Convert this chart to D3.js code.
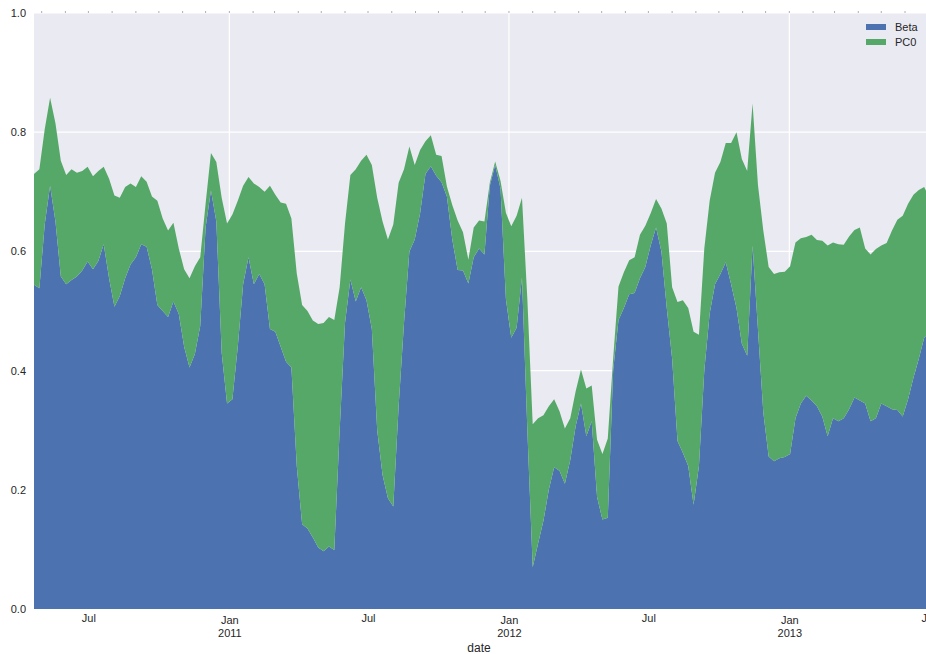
<!DOCTYPE html>
<html>
<head>
<meta charset="UTF-8">
<script src="https://d3js.org/d3.v7.min.js"></script>
<style>
  body { margin: 0; background: #fff; }
  svg { font-family: "Liberation Sans", Arial, sans-serif; }
  .tick text { fill: #262626; font-size: 11px; }
  .domain { display: none; }
</style>
</head>
<body>
<svg width="926" height="654"></svg>
<script>
// weekly samples starting 2010-04-21
const startDate = "2010-04-21";
const seriesNames = ["Beta", "PC0"];
const betaValues = [
  0.544, 0.538, 0.645, 0.710, 0.650, 0.558, 0.545, 0.552, 0.558, 0.568,
  0.583, 0.570, 0.584, 0.612, 0.555, 0.507, 0.525, 0.555, 0.578, 0.590,
  0.612, 0.608, 0.570, 0.510, 0.500, 0.490, 0.516, 0.495, 0.440, 0.405,
  0.428, 0.475, 0.640, 0.702, 0.650, 0.430, 0.345, 0.352, 0.440, 0.545,
  0.590, 0.545, 0.562, 0.545, 0.470, 0.465, 0.440, 0.415, 0.405, 0.240,
  0.142, 0.135, 0.120, 0.103, 0.097, 0.105, 0.099, 0.300, 0.480, 0.553,
  0.516, 0.540, 0.518, 0.470, 0.300, 0.225, 0.186, 0.172, 0.340, 0.480,
  0.600, 0.620, 0.664, 0.730, 0.743, 0.727, 0.716, 0.692, 0.620, 0.569,
  0.568, 0.546, 0.590, 0.605, 0.595, 0.710, 0.745, 0.705, 0.520, 0.455,
  0.472, 0.556, 0.300, 0.070, 0.110, 0.148, 0.200, 0.238, 0.232, 0.210,
  0.250, 0.306, 0.345, 0.290, 0.315, 0.188, 0.150, 0.153, 0.400, 0.485,
  0.505, 0.528, 0.530, 0.555, 0.574, 0.610, 0.640, 0.600, 0.505, 0.420,
  0.282, 0.262, 0.240, 0.175, 0.240, 0.400, 0.496, 0.545, 0.562, 0.582,
  0.545, 0.505, 0.445, 0.425, 0.610, 0.470, 0.330, 0.256, 0.248, 0.253,
  0.255, 0.260, 0.320, 0.345, 0.358, 0.350, 0.340, 0.323, 0.290, 0.320,
  0.315, 0.320, 0.335, 0.355, 0.350, 0.345, 0.315, 0.320, 0.345, 0.340,
  0.335, 0.334, 0.323, 0.352, 0.388, 0.420, 0.455, 0.465
];
const pc0Values = [
  0.186, 0.200, 0.160, 0.148, 0.165, 0.194, 0.183, 0.186, 0.174, 0.167,
  0.159, 0.156, 0.151, 0.130, 0.167, 0.187, 0.165, 0.153, 0.136, 0.118,
  0.114, 0.109, 0.122, 0.175, 0.155, 0.145, 0.132, 0.110, 0.130, 0.150,
  0.147, 0.115, 0.040, 0.063, 0.100, 0.260, 0.302, 0.310, 0.245, 0.165,
  0.135, 0.169, 0.146, 0.155, 0.240, 0.230, 0.242, 0.265, 0.250, 0.323,
  0.368, 0.365, 0.364, 0.375, 0.383, 0.385, 0.386, 0.240, 0.167, 0.175,
  0.222, 0.212, 0.244, 0.275, 0.390, 0.425, 0.434, 0.473, 0.375, 0.258,
  0.176, 0.125, 0.106, 0.055, 0.052, 0.035, 0.044, 0.017, 0.058, 0.083,
  0.064, 0.040, 0.050, 0.047, 0.055, 0.005, 0.006, 0.013, 0.145, 0.187,
  0.188, 0.134, 0.220, 0.240, 0.210, 0.177, 0.140, 0.114, 0.100, 0.093,
  0.070, 0.059, 0.057, 0.080, 0.060, 0.096, 0.110, 0.133, 0.020, 0.056,
  0.060, 0.057, 0.060, 0.073, 0.069, 0.054, 0.048, 0.072, 0.142, 0.120,
  0.233, 0.256, 0.265, 0.290, 0.220, 0.205, 0.189, 0.187, 0.188, 0.200,
  0.237, 0.295, 0.310, 0.310, 0.238, 0.242, 0.305, 0.318, 0.314, 0.312,
  0.311, 0.315, 0.295, 0.277, 0.266, 0.278, 0.279, 0.295, 0.320, 0.295,
  0.297, 0.291, 0.290, 0.281, 0.290, 0.260, 0.280, 0.284, 0.265, 0.274,
  0.300, 0.319, 0.337, 0.328, 0.307, 0.283, 0.253, 0.225
];
const yTicks = [0, 0.2, 0.4, 0.6, 0.8, 1.0];
const colors = ["#4C72B0", "#55A868"];

const parse = d3.timeParse("%Y-%m-%d");
const start = parse(startDate);
const rows = betaValues.map((b, i) => ({
  date: d3.timeDay.offset(start, i * 7),
  Beta: b,
  PC0: pc0Values[i]
}));

const svg = d3.select("svg");
const margin = {top: 13, right: 0, bottom: 45, left: 34};
const plotW = 894; // axes runs slightly past the right edge
const plotH = 654 - margin.top - margin.bottom;

const x = d3.scaleTime()
  .domain([start, parse("2013-07-01")])
  .range([0, plotW]);
const y = d3.scaleLinear().domain([0, 1]).range([plotH, 0]);

const g = svg.append("g").attr("transform", `translate(${margin.left},${margin.top})`);

g.append("rect").attr("width", plotW).attr("height", plotH).attr("fill", "#EAEAF2");

svg.append("defs").append("clipPath").attr("id", "clip")
  .append("rect").attr("width", plotW).attr("height", plotH);

// grid
const janTicks = d3.timeYear.range(d3.timeYear.ceil(x.domain()[0]), x.domain()[1]);
g.append("g").selectAll("line").data(yTicks).join("line")
  .attr("x1", 0).attr("x2", plotW)
  .attr("y1", d => y(d)).attr("y2", d => y(d))
  .attr("stroke", "#fff").attr("stroke-width", 1.2);
g.append("g").selectAll("line").data(janTicks).join("line")
  .attr("x1", d => x(d)).attr("x2", d => x(d))
  .attr("y1", 0).attr("y2", plotH)
  .attr("stroke", "#fff").attr("stroke-width", 1.2);

// stacked areas
const stack = d3.stack().keys(seriesNames);
const layers = stack(rows);
const area = d3.area()
  .x(d => x(d.data.date))
  .y0(d => y(d[0]))
  .y1(d => y(d[1]));

g.append("g").attr("clip-path", "url(#clip)")
  .selectAll("path").data(layers).join("path")
  .attr("fill", (d, i) => colors[i])
  .attr("d", area);

// minor month ticks along the top
const months = d3.timeMonth.range(d3.timeMonth.ceil(x.domain()[0]), x.domain()[1]);
g.append("g").selectAll("line").data(months).join("line")
  .attr("x1", d => x(d)).attr("x2", d => x(d))
  .attr("y1", 0).attr("y2", -2)
  .attr("stroke", "#999").attr("stroke-width", 0.8);

// y axis
g.append("g")
  .call(d3.axisLeft(y).tickValues(yTicks).tickFormat(d3.format(".1f")).tickSize(0).tickPadding(8));

// x axis: Jan / Jul labels
const halfYears = d3.timeMonth.every(6).range(d3.timeMonth.ceil(x.domain()[0]), d3.timeDay.offset(x.domain()[1], 1));
const xAxis = g.append("g")
  .attr("transform", `translate(0,${plotH})`)
  .call(d3.axisBottom(x).tickValues(halfYears).tickSize(0).tickPadding(6).tickFormat(""));
xAxis.selectAll(".tick").each(function(d) {
  const t = d3.select(this).append("text").attr("fill", "#262626")
    .attr("text-anchor", "middle").attr("font-size", 11);
  if (d.getMonth() === 0) {
    t.append("tspan").attr("x", 0).attr("y", 15).text("Jan");
    t.append("tspan").attr("x", 0).attr("y", 28).text(d.getFullYear());
  } else {
    t.attr("y", 13).text("Jul");
  }
});

g.append("text")
  .attr("x", plotW / 2 - 2).attr("y", plotH + 43)
  .attr("text-anchor", "middle").attr("font-size", 12).attr("fill", "#262626")
  .text("date");

// legend
const legend = g.append("g").attr("transform", `translate(${832},${11})`);
seriesNames.forEach((name, i) => {
  legend.append("rect").attr("x", 0).attr("y", i * 15)
    .attr("width", 20).attr("height", 6).attr("fill", colors[i]);
  legend.append("text").attr("x", 29).attr("y", i * 15 + 7)
    .attr("font-size", 11).attr("fill", "#262626").text(name);
});
</script>
</body>
</html>
